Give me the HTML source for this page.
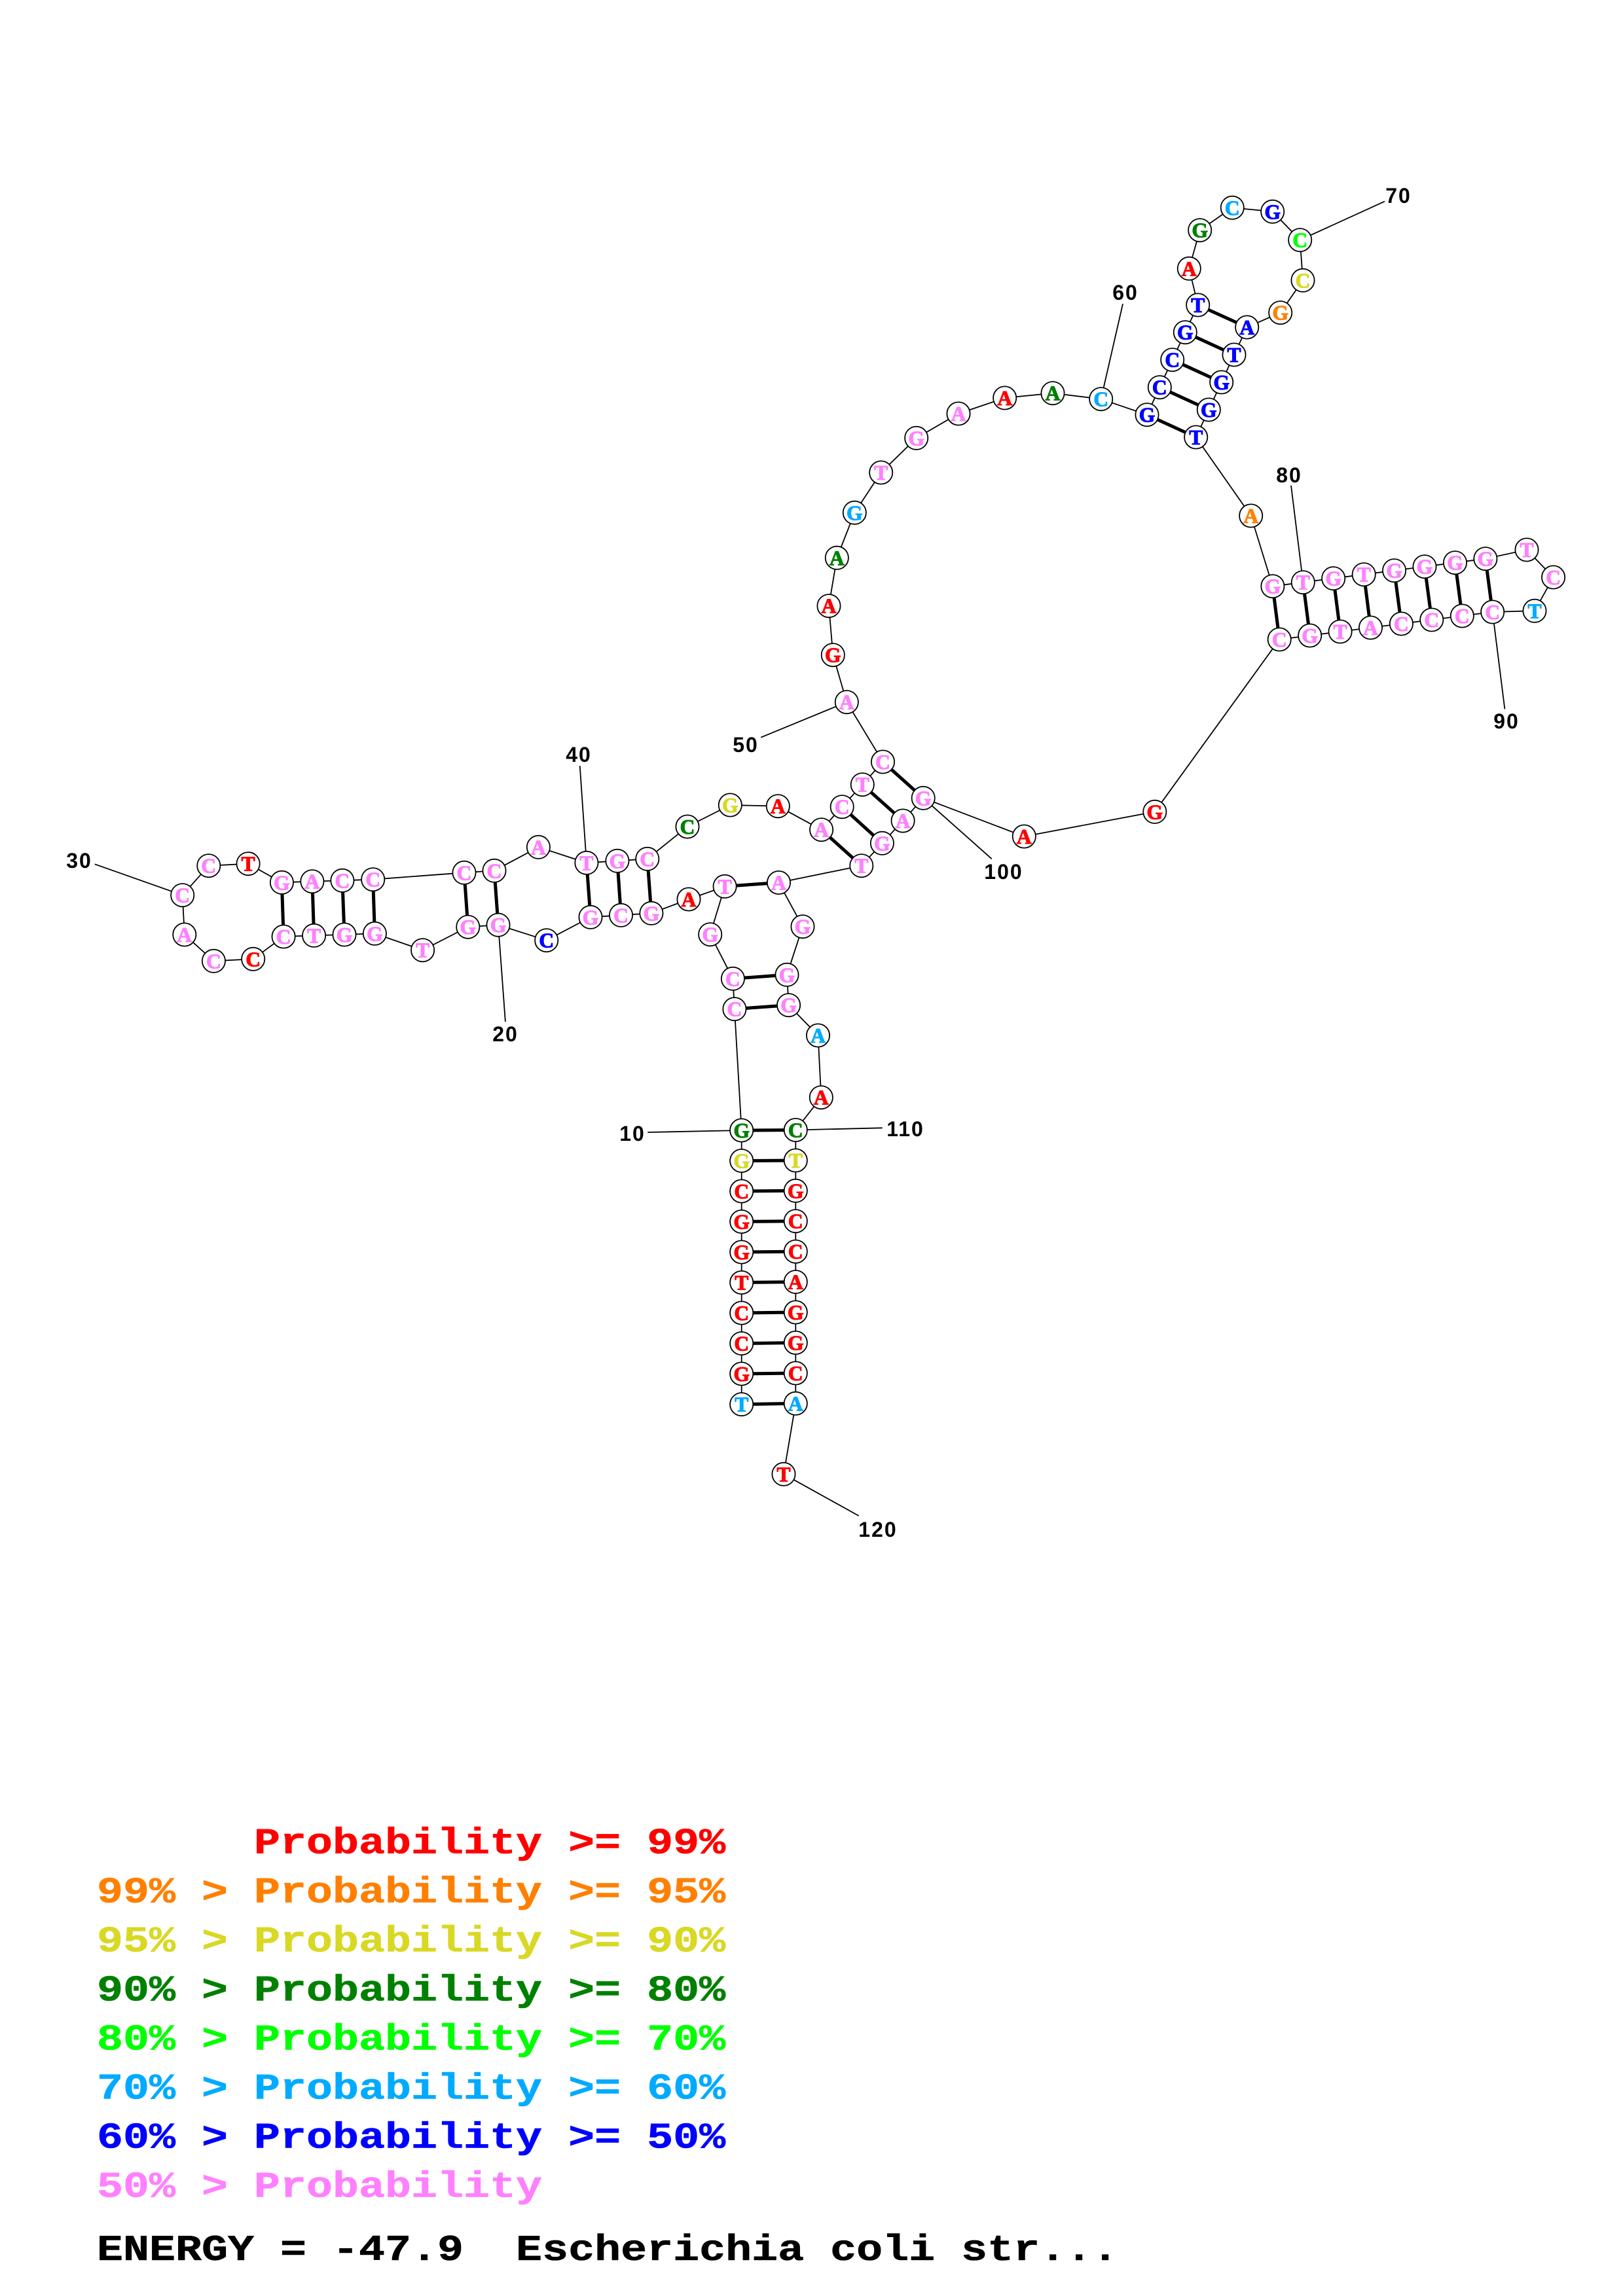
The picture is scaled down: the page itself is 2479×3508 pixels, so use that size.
<!DOCTYPE html>
<html><head><meta charset="utf-8"><style>
html,body{margin:0;padding:0;background:#fff}
svg{display:block}
.c circle{fill:#fff;stroke:#000;stroke-width:1.8}
.n text{font:bold 31.5px "Liberation Serif",serif;text-anchor:middle;stroke-width:1.1}
.R{fill:#f00;stroke:#f00}.O{fill:#ff8000;stroke:#ff8000}.Y{fill:#d8d825;stroke:#d8d825}.D{fill:#008000;stroke:#008000}.L{fill:#0f0;stroke:#0f0}.B{fill:#0af;stroke:#0af}.U{fill:#00f;stroke:#00f}.P{fill:#ff80ff;stroke:#ff80ff}
.l text{font:bold 32px "Liberation Sans",sans-serif;text-anchor:middle;letter-spacing:2px;fill:#000}
.g text{font:bold 55.7px "Liberation Mono",monospace;white-space:pre;stroke-width:.6}
</style></head><body>
<svg width="2479" height="3508" viewBox="0 0 2479 3508" xmlns="http://www.w3.org/2000/svg">
<rect width="2479" height="3508" fill="#fff"/>
<path fill="none" stroke="#000" stroke-width="1.8" d="M989.3 1730L1132.7 1727M761 1413L771.9 1561M144.7 1320.3L278.7 1367.7M885.7 1170L895.9 1318.3M1162.2 1126.7L1293.3 1072.7M1715 464.3L1681.7 609.7M2115 307.7L1985.7 366.7M1972 741.7L1990.3 889.7M2298.4 1083.3L2279.7 935M1514.8 1312.3L1410.2 1219.3M1215.3 1726.5L1347.7 1723.3M1311.7 2316L1197 2252.3"/>
<path fill="none" stroke="#000" stroke-width="1.8" d="M1132.7 2145.6L1132.7 2099L1132.7 2052.6L1132.7 2006L1132.7 1959.5L1132.7 1913L1132.7 1866.5L1132.7 1820L1132.7 1773.5L1132.7 1727L1121.9 1541.7L1119.4 1495.3L1084.7 1427.7L1107.1 1354.3L1052 1374L994.9 1395.3L948.5 1398.3L902 1401.3L834.7 1436.7L761 1413.2L714.8 1416.2L645.6 1451.7L572.4 1426.3L526 1428L479.6 1429.3L433.1 1431L386.7 1465.3L326.4 1468.3L281.8 1428L278.7 1367.7L318.8 1322.7L379.1 1319.7L430.4 1348.3L476.9 1346.7L522.9 1345.3L569.7 1343.7L709 1333.3L755 1330.3L822.4 1294.3L895.9 1318.3L942.9 1315.3L988.8 1312.3L1050 1263L1115.3 1230L1188.3 1231.7L1254.6 1267.7L1286.2 1232.7L1317.3 1198.7L1348.5 1164L1293.3 1072.7L1272.3 1000.7L1266 925.7L1278.3 852.3L1305.3 783.3L1345.7 722L1399.7 669.3L1464 632L1534.7 608L1608 600.7L1681.7 609.7L1752 633.7L1771.3 591.7L1790.7 549.7L1810.3 507.7L1829.7 466L1816.3 410.3L1832.7 351.7L1882.3 317.3L1943.7 323.3L1985.7 366.7L1990 428.3L1955.7 477.7L1904.7 500L1885 542L1865.7 584L1846.3 626L1826.7 668L1910.7 788L1943.9 895.7L1990.3 889.7L2036.7 883.7L2083.2 877.7L2129.6 871.7L2176 865.7L2222.5 859.7L2268.9 853.7L2332 840L2372.6 882L2344 933.3L2279.7 935L2233.3 941L2186.8 947L2140.4 953L2093.5 959L2047.1 965L2000.7 971L1954.2 977L1763.8 1240.3L1564.3 1278L1410.2 1219.3L1379.1 1254L1347.4 1288.3L1315.8 1322.7L1189.5 1348.5L1226 1415.7L1202 1489.3L1204.6 1535.7L1249.5 1582L1254.3 1676.7L1215.3 1726.5L1215.3 1773L1215.3 1819.3L1215.3 1865.7L1215.3 1912.2L1215.3 1958.6L1215.3 2005L1215.3 2051.5L1215.3 2098L1215.3 2144.3L1197 2252.3"/>
<path fill="none" stroke="#000" stroke-width="5" d="M1132.7 2145.6L1215.3 2144.3M1132.7 2099L1215.3 2098M1132.7 2052.6L1215.3 2051.5M1132.7 2006L1215.3 2005M1132.7 1959.5L1215.3 1958.6M1132.7 1913L1215.3 1912.2M1132.7 1866.5L1215.3 1865.7M1132.7 1820L1215.3 1819.3M1132.7 1773.5L1215.3 1773M1132.7 1727L1215.3 1726.5M1121.9 1541.7L1204.6 1535.7M1119.4 1495.3L1202 1489.3M1107.1 1354.3L1189.5 1348.5M994.9 1395.3L988.8 1312.3M948.5 1398.3L942.9 1315.3M902 1401.3L895.9 1318.3M761 1413.2L755 1330.3M714.8 1416.2L709 1333.3M572.4 1426.3L569.7 1343.7M526 1428L522.9 1345.3M479.6 1429.3L476.9 1346.7M433.1 1431L430.4 1348.3M1254.6 1267.7L1315.8 1322.7M1286.2 1232.7L1347.4 1288.3M1317.3 1198.7L1379.1 1254M1348.5 1164L1410.2 1219.3M1752 633.7L1826.7 668M1771.3 591.7L1846.3 626M1790.7 549.7L1865.7 584M1810.3 507.7L1885 542M1829.7 466L1904.7 500M1943.9 895.7L1954.2 977M1990.3 889.7L2000.7 971M2036.7 883.7L2047.1 965M2083.2 877.7L2093.5 959M2129.6 871.7L2140.4 953M2176 865.7L2186.8 947M2222.5 859.7L2233.3 941M2268.9 853.7L2279.7 935"/>
<g class="c">
<circle cx="1132.7" cy="2145.6" r="17.6"/><circle cx="1132.7" cy="2099" r="17.6"/><circle cx="1132.7" cy="2052.6" r="17.6"/><circle cx="1132.7" cy="2006" r="17.6"/><circle cx="1132.7" cy="1959.5" r="17.6"/><circle cx="1132.7" cy="1913" r="17.6"/><circle cx="1132.7" cy="1866.5" r="17.6"/><circle cx="1132.7" cy="1820" r="17.6"/><circle cx="1132.7" cy="1773.5" r="17.6"/><circle cx="1132.7" cy="1727" r="17.6"/>
<circle cx="1121.9" cy="1541.7" r="17.6"/><circle cx="1119.4" cy="1495.3" r="17.6"/><circle cx="1084.7" cy="1427.7" r="17.6"/><circle cx="1107.1" cy="1354.3" r="17.6"/><circle cx="1052" cy="1374" r="17.6"/><circle cx="994.9" cy="1395.3" r="17.6"/><circle cx="948.5" cy="1398.3" r="17.6"/><circle cx="902" cy="1401.3" r="17.6"/><circle cx="834.7" cy="1436.7" r="17.6"/><circle cx="761" cy="1413.2" r="17.6"/>
<circle cx="714.8" cy="1416.2" r="17.6"/><circle cx="645.6" cy="1451.7" r="17.6"/><circle cx="572.4" cy="1426.3" r="17.6"/><circle cx="526" cy="1428" r="17.6"/><circle cx="479.6" cy="1429.3" r="17.6"/><circle cx="433.1" cy="1431" r="17.6"/><circle cx="386.7" cy="1465.3" r="17.6"/><circle cx="326.4" cy="1468.3" r="17.6"/><circle cx="281.8" cy="1428" r="17.6"/><circle cx="278.7" cy="1367.7" r="17.6"/>
<circle cx="318.8" cy="1322.7" r="17.6"/><circle cx="379.1" cy="1319.7" r="17.6"/><circle cx="430.4" cy="1348.3" r="17.6"/><circle cx="476.9" cy="1346.7" r="17.6"/><circle cx="522.9" cy="1345.3" r="17.6"/><circle cx="569.7" cy="1343.7" r="17.6"/><circle cx="709" cy="1333.3" r="17.6"/><circle cx="755" cy="1330.3" r="17.6"/><circle cx="822.4" cy="1294.3" r="17.6"/><circle cx="895.9" cy="1318.3" r="17.6"/>
<circle cx="942.9" cy="1315.3" r="17.6"/><circle cx="988.8" cy="1312.3" r="17.6"/><circle cx="1050" cy="1263" r="17.6"/><circle cx="1115.3" cy="1230" r="17.6"/><circle cx="1188.3" cy="1231.7" r="17.6"/><circle cx="1254.6" cy="1267.7" r="17.6"/><circle cx="1286.2" cy="1232.7" r="17.6"/><circle cx="1317.3" cy="1198.7" r="17.6"/><circle cx="1348.5" cy="1164" r="17.6"/><circle cx="1293.3" cy="1072.7" r="17.6"/>
<circle cx="1272.3" cy="1000.7" r="17.6"/><circle cx="1266" cy="925.7" r="17.6"/><circle cx="1278.3" cy="852.3" r="17.6"/><circle cx="1305.3" cy="783.3" r="17.6"/><circle cx="1345.7" cy="722" r="17.6"/><circle cx="1399.7" cy="669.3" r="17.6"/><circle cx="1464" cy="632" r="17.6"/><circle cx="1534.7" cy="608" r="17.6"/><circle cx="1608" cy="600.7" r="17.6"/><circle cx="1681.7" cy="609.7" r="17.6"/>
<circle cx="1752" cy="633.7" r="17.6"/><circle cx="1771.3" cy="591.7" r="17.6"/><circle cx="1790.7" cy="549.7" r="17.6"/><circle cx="1810.3" cy="507.7" r="17.6"/><circle cx="1829.7" cy="466" r="17.6"/><circle cx="1816.3" cy="410.3" r="17.6"/><circle cx="1832.7" cy="351.7" r="17.6"/><circle cx="1882.3" cy="317.3" r="17.6"/><circle cx="1943.7" cy="323.3" r="17.6"/><circle cx="1985.7" cy="366.7" r="17.6"/>
<circle cx="1990" cy="428.3" r="17.6"/><circle cx="1955.7" cy="477.7" r="17.6"/><circle cx="1904.7" cy="500" r="17.6"/><circle cx="1885" cy="542" r="17.6"/><circle cx="1865.7" cy="584" r="17.6"/><circle cx="1846.3" cy="626" r="17.6"/><circle cx="1826.7" cy="668" r="17.6"/><circle cx="1910.7" cy="788" r="17.6"/><circle cx="1943.9" cy="895.7" r="17.6"/><circle cx="1990.3" cy="889.7" r="17.6"/>
<circle cx="2036.7" cy="883.7" r="17.6"/><circle cx="2083.2" cy="877.7" r="17.6"/><circle cx="2129.6" cy="871.7" r="17.6"/><circle cx="2176" cy="865.7" r="17.6"/><circle cx="2222.5" cy="859.7" r="17.6"/><circle cx="2268.9" cy="853.7" r="17.6"/><circle cx="2332" cy="840" r="17.6"/><circle cx="2372.6" cy="882" r="17.6"/><circle cx="2344" cy="933.3" r="17.6"/><circle cx="2279.7" cy="935" r="17.6"/>
<circle cx="2233.3" cy="941" r="17.6"/><circle cx="2186.8" cy="947" r="17.6"/><circle cx="2140.4" cy="953" r="17.6"/><circle cx="2093.5" cy="959" r="17.6"/><circle cx="2047.1" cy="965" r="17.6"/><circle cx="2000.7" cy="971" r="17.6"/><circle cx="1954.2" cy="977" r="17.6"/><circle cx="1763.8" cy="1240.3" r="17.6"/><circle cx="1564.3" cy="1278" r="17.6"/><circle cx="1410.2" cy="1219.3" r="17.6"/>
<circle cx="1379.1" cy="1254" r="17.6"/><circle cx="1347.4" cy="1288.3" r="17.6"/><circle cx="1315.8" cy="1322.7" r="17.6"/><circle cx="1189.5" cy="1348.5" r="17.6"/><circle cx="1226" cy="1415.7" r="17.6"/><circle cx="1202" cy="1489.3" r="17.6"/><circle cx="1204.6" cy="1535.7" r="17.6"/><circle cx="1249.5" cy="1582" r="17.6"/><circle cx="1254.3" cy="1676.7" r="17.6"/><circle cx="1215.3" cy="1726.5" r="17.6"/>
<circle cx="1215.3" cy="1773" r="17.6"/><circle cx="1215.3" cy="1819.3" r="17.6"/><circle cx="1215.3" cy="1865.7" r="17.6"/><circle cx="1215.3" cy="1912.2" r="17.6"/><circle cx="1215.3" cy="1958.6" r="17.6"/><circle cx="1215.3" cy="2005" r="17.6"/><circle cx="1215.3" cy="2051.5" r="17.6"/><circle cx="1215.3" cy="2098" r="17.6"/><circle cx="1215.3" cy="2144.3" r="17.6"/><circle cx="1197" cy="2252.3" r="17.6"/>
</g>
<g class="n">
<text class="B" x="1132.7" y="2156.6">T</text><text class="R" x="1132.7" y="2110">G</text><text class="R" x="1132.7" y="2063.6">C</text><text class="R" x="1132.7" y="2017">C</text><text class="R" x="1132.7" y="1970.5">T</text><text class="R" x="1132.7" y="1924">G</text><text class="R" x="1132.7" y="1877.5">G</text><text class="R" x="1132.7" y="1831">C</text><text class="Y" x="1132.7" y="1784.5">G</text><text class="D" x="1132.7" y="1738">G</text>
<text class="P" x="1121.9" y="1552.7">C</text><text class="P" x="1119.4" y="1506.3">C</text><text class="P" x="1084.7" y="1438.7">G</text><text class="P" x="1107.1" y="1365.3">T</text><text class="R" x="1052" y="1385">A</text><text class="P" x="994.9" y="1406.3">G</text><text class="P" x="948.5" y="1409.3">C</text><text class="P" x="902" y="1412.3">G</text><text class="U" x="834.7" y="1447.7">C</text><text class="P" x="761" y="1424.2">G</text>
<text class="P" x="714.8" y="1427.2">G</text><text class="P" x="645.6" y="1462.7">T</text><text class="P" x="572.4" y="1437.3">G</text><text class="P" x="526" y="1439">G</text><text class="P" x="479.6" y="1440.3">T</text><text class="P" x="433.1" y="1442">C</text><text class="R" x="386.7" y="1476.3">C</text><text class="P" x="326.4" y="1479.3">C</text><text class="P" x="281.8" y="1439">A</text><text class="P" x="278.7" y="1378.7">C</text>
<text class="P" x="318.8" y="1333.7">C</text><text class="R" x="379.1" y="1330.7">T</text><text class="P" x="430.4" y="1359.3">G</text><text class="P" x="476.9" y="1357.7">A</text><text class="P" x="522.9" y="1356.3">C</text><text class="P" x="569.7" y="1354.7">C</text><text class="P" x="709" y="1344.3">C</text><text class="P" x="755" y="1341.3">C</text><text class="P" x="822.4" y="1305.3">A</text><text class="P" x="895.9" y="1329.3">T</text>
<text class="P" x="942.9" y="1326.3">G</text><text class="P" x="988.8" y="1323.3">C</text><text class="D" x="1050" y="1274">C</text><text class="Y" x="1115.3" y="1241">G</text><text class="R" x="1188.3" y="1242.7">A</text><text class="P" x="1254.6" y="1278.7">A</text><text class="P" x="1286.2" y="1243.7">C</text><text class="P" x="1317.3" y="1209.7">T</text><text class="P" x="1348.5" y="1175">C</text><text class="P" x="1293.3" y="1083.7">A</text>
<text class="R" x="1272.3" y="1011.7">G</text><text class="R" x="1266" y="936.7">A</text><text class="D" x="1278.3" y="863.3">A</text><text class="B" x="1305.3" y="794.3">G</text><text class="P" x="1345.7" y="733">T</text><text class="P" x="1399.7" y="680.3">G</text><text class="P" x="1464" y="643">A</text><text class="R" x="1534.7" y="619">A</text><text class="D" x="1608" y="611.7">A</text><text class="B" x="1681.7" y="620.7">C</text>
<text class="U" x="1752" y="644.7">G</text><text class="U" x="1771.3" y="602.7">C</text><text class="U" x="1790.7" y="560.7">C</text><text class="U" x="1810.3" y="518.7">G</text><text class="U" x="1829.7" y="477">T</text><text class="R" x="1816.3" y="421.3">A</text><text class="D" x="1832.7" y="362.7">G</text><text class="B" x="1882.3" y="328.3">C</text><text class="U" x="1943.7" y="334.3">G</text><text class="L" x="1985.7" y="377.7">C</text>
<text class="Y" x="1990" y="439.3">C</text><text class="O" x="1955.7" y="488.7">G</text><text class="U" x="1904.7" y="511">A</text><text class="U" x="1885" y="553">T</text><text class="U" x="1865.7" y="595">G</text><text class="U" x="1846.3" y="637">G</text><text class="U" x="1826.7" y="679">T</text><text class="O" x="1910.7" y="799">A</text><text class="P" x="1943.9" y="906.7">G</text><text class="P" x="1990.3" y="900.7">T</text>
<text class="P" x="2036.7" y="894.7">G</text><text class="P" x="2083.2" y="888.7">T</text><text class="P" x="2129.6" y="882.7">G</text><text class="P" x="2176" y="876.7">G</text><text class="P" x="2222.5" y="870.7">G</text><text class="P" x="2268.9" y="864.7">G</text><text class="P" x="2332" y="851">T</text><text class="P" x="2372.6" y="893">C</text><text class="B" x="2344" y="944.3">T</text><text class="P" x="2279.7" y="946">C</text>
<text class="P" x="2233.3" y="952">C</text><text class="P" x="2186.8" y="958">C</text><text class="P" x="2140.4" y="964">C</text><text class="P" x="2093.5" y="970">A</text><text class="P" x="2047.1" y="976">T</text><text class="P" x="2000.7" y="982">G</text><text class="P" x="1954.2" y="988">C</text><text class="R" x="1763.8" y="1251.3">G</text><text class="R" x="1564.3" y="1289">A</text><text class="P" x="1410.2" y="1230.3">G</text>
<text class="P" x="1379.1" y="1265">A</text><text class="P" x="1347.4" y="1299.3">G</text><text class="P" x="1315.8" y="1333.7">T</text><text class="P" x="1189.5" y="1359.5">A</text><text class="P" x="1226" y="1426.7">G</text><text class="P" x="1202" y="1500.3">G</text><text class="P" x="1204.6" y="1546.7">G</text><text class="B" x="1249.5" y="1593">A</text><text class="R" x="1254.3" y="1687.7">A</text><text class="D" x="1215.3" y="1737.5">C</text>
<text class="Y" x="1215.3" y="1784">T</text><text class="R" x="1215.3" y="1830.3">G</text><text class="R" x="1215.3" y="1876.7">C</text><text class="R" x="1215.3" y="1923.2">C</text><text class="R" x="1215.3" y="1969.6">A</text><text class="R" x="1215.3" y="2016">G</text><text class="R" x="1215.3" y="2062.5">G</text><text class="R" x="1215.3" y="2109">C</text><text class="B" x="1215.3" y="2155.3">A</text><text class="R" x="1197" y="2263.3">T</text>
</g>
<g class="l">
<text x="966" y="1743">10</text><text x="772" y="1591">20</text><text x="121" y="1326">30</text><text x="884" y="1164">40</text><text x="1139" y="1149">50</text><text x="1719" y="458">60</text><text x="2136" y="310">70</text><text x="1969" y="737">80</text><text x="2301" y="1113">90</text><text x="1533" y="1343">100</text><text x="1383" y="1736">110</text><text x="1341" y="2348">120</text>
</g>
<g class="g" transform="translate(148,0) scale(1.197,1)">
<text class="R" x="0" y="2831.7">      Probability &gt;= 99%</text>
<text class="O" x="0" y="2906.7">99% &gt; Probability &gt;= 95%</text>
<text class="Y" x="0" y="2981.7">95% &gt; Probability &gt;= 90%</text>
<text class="D" x="0" y="3056.7">90% &gt; Probability &gt;= 80%</text>
<text class="L" x="0" y="3131.7">80% &gt; Probability &gt;= 70%</text>
<text class="B" x="0" y="3206.7">70% &gt; Probability &gt;= 60%</text>
<text class="U" x="0" y="3281.7">60% &gt; Probability &gt;= 50%</text>
<text class="P" x="0" y="3356.7">50% &gt; Probability</text>
<text x="0" y="3453" fill="#000" stroke="#000">ENERGY = -47.9  Escherichia coli str...</text>
</g>
</svg>
</body></html>
